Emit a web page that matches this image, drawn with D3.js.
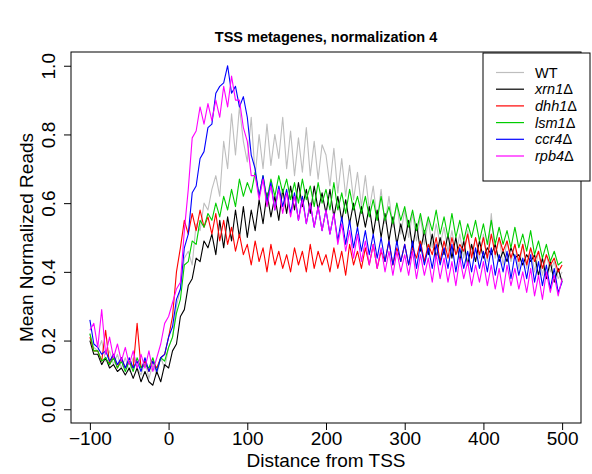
<!DOCTYPE html>
<html>
<head>
<meta charset="utf-8">
<script src="https://cdn.jsdelivr.net/npm/d3@7"></script>
<style>
  html, body { margin: 0; padding: 0; background: #fff; }
  svg { display: block; font-family: "Liberation Sans", Arial, Helvetica, sans-serif; }
</style>
</head>
<body>
<svg id="chart" width="592" height="474"></svg>
<script>
// Distance from TSS (bp), every 5 bp from -100 to 500
const positions = d3.range(-100, 501, 5);

const WT = [
  0.22,0.18,0.17,0.20,0.14,0.17,0.13,0.16,0.12,0.15,
  0.11,0.15,0.12,0.10,0.14,0.09,0.13,0.10,0.15,0.12,
  0.18,0.21,0.30,0.35,0.44,0.46,0.42,0.54,0.52,0.60,
  0.58,0.64,0.68,0.62,0.78,0.70,0.86,0.74,0.88,0.78,
  0.72,0.85,0.68,0.80,0.70,0.83,0.71,0.80,0.73,0.85,
  0.70,0.81,0.68,0.79,0.69,0.82,0.68,0.78,0.67,0.77,
  0.74,0.65,0.76,0.63,0.73,0.62,0.71,0.61,0.69,0.59,
  0.68,0.58,0.65,0.55,0.64,0.54,0.62,0.53,0.60,0.51,
  0.58,0.50,0.57,0.49,0.56,0.48,0.55,0.47,0.54,0.48,
  0.53,0.46,0.52,0.45,0.51,0.44,0.52,0.45,0.50,0.44,
  0.51,0.43,0.57,0.44,0.50,0.42,0.49,0.43,0.48,0.41,
  0.48,0.41,0.47,0.40,0.46,0.39,0.45,0.40,0.43,0.38,
  0.40
];
const xrn1 = [
  0.20,0.16,0.16,0.13,0.15,0.12,0.13,0.11,0.12,0.10,
  0.12,0.09,0.12,0.08,0.11,0.08,0.07,0.11,0.08,0.13,
  0.12,0.17,0.19,0.27,0.29,0.36,0.38,0.44,0.43,0.49,
  0.47,0.51,0.45,0.55,0.47,0.56,0.49,0.58,0.50,0.59,
  0.50,0.58,0.52,0.61,0.54,0.63,0.56,0.62,0.55,0.64,
  0.57,0.65,0.58,0.66,0.59,0.64,0.57,0.65,0.58,0.63,
  0.57,0.64,0.56,0.62,0.55,0.61,0.54,0.60,0.53,0.59,
  0.53,0.59,0.51,0.58,0.50,0.57,0.49,0.56,0.48,0.54,
  0.49,0.55,0.47,0.54,0.46,0.52,0.45,0.51,0.44,0.50,
  0.45,0.51,0.44,0.50,0.43,0.49,0.42,0.48,0.43,0.49,
  0.44,0.47,0.45,0.48,0.43,0.46,0.43,0.47,0.44,0.45,
  0.42,0.45,0.43,0.45,0.39,0.44,0.38,0.43,0.37,0.41,
  0.37
];
const dhh1 = [
  0.21,0.17,0.17,0.14,0.23,0.13,0.16,0.12,0.15,0.12,
  0.14,0.12,0.25,0.12,0.14,0.11,0.14,0.12,0.15,0.16,
  0.21,0.27,0.40,0.47,0.55,0.51,0.57,0.52,0.58,0.53,
  0.56,0.51,0.57,0.49,0.55,0.48,0.53,0.46,0.51,0.45,
  0.48,0.42,0.49,0.43,0.47,0.40,0.48,0.42,0.46,0.41,
  0.45,0.40,0.47,0.42,0.46,0.40,0.48,0.41,0.46,0.42,
  0.45,0.40,0.47,0.41,0.46,0.39,0.48,0.42,0.46,0.41,
  0.47,0.42,0.48,0.41,0.46,0.43,0.49,0.42,0.47,0.43,
  0.48,0.42,0.47,0.44,0.49,0.43,0.48,0.45,0.50,0.43,
  0.49,0.44,0.50,0.45,0.48,0.46,0.51,0.44,0.50,0.45,
  0.50,0.44,0.51,0.45,0.50,0.46,0.49,0.44,0.48,0.43,
  0.48,0.42,0.47,0.43,0.46,0.41,0.45,0.42,0.44,0.40,
  0.42
];
const lsm1 = [
  0.22,0.17,0.17,0.14,0.15,0.13,0.15,0.12,0.14,0.11,
  0.14,0.11,0.15,0.12,0.13,0.12,0.15,0.11,0.15,0.14,
  0.18,0.21,0.28,0.32,0.42,0.43,0.49,0.48,0.55,0.53,
  0.57,0.55,0.60,0.56,0.62,0.58,0.64,0.59,0.67,0.62,
  0.66,0.63,0.69,0.62,0.68,0.61,0.67,0.62,0.68,0.63,
  0.67,0.61,0.66,0.60,0.67,0.61,0.65,0.59,0.66,0.60,
  0.64,0.58,0.66,0.58,0.63,0.57,0.64,0.58,0.62,0.57,
  0.62,0.56,0.61,0.55,0.62,0.55,0.59,0.54,0.60,0.55,
  0.59,0.53,0.58,0.52,0.57,0.51,0.56,0.52,0.58,0.51,
  0.56,0.50,0.57,0.50,0.55,0.49,0.54,0.50,0.55,0.49,
  0.54,0.48,0.55,0.48,0.53,0.48,0.52,0.47,0.53,0.47,
  0.51,0.46,0.52,0.45,0.49,0.44,0.48,0.43,0.46,0.42,
  0.43
];
const ccr4 = [
  0.26,0.19,0.18,0.16,0.17,0.14,0.16,0.13,0.15,0.12,
  0.15,0.12,0.14,0.11,0.15,0.11,0.14,0.11,0.15,0.16,
  0.21,0.24,0.32,0.35,0.47,0.51,0.63,0.65,0.73,0.75,
  0.82,0.83,0.92,0.94,0.95,1.00,0.92,0.94,0.88,0.91,
  0.85,0.74,0.70,0.62,0.68,0.60,0.66,0.58,0.65,0.59,
  0.64,0.57,0.63,0.55,0.62,0.54,0.60,0.53,0.59,0.52,
  0.58,0.51,0.57,0.49,0.56,0.48,0.55,0.47,0.53,0.46,
  0.52,0.45,0.51,0.44,0.50,0.43,0.49,0.42,0.49,0.43,
  0.48,0.42,0.49,0.41,0.48,0.42,0.47,0.41,0.48,0.42,
  0.47,0.41,0.48,0.40,0.47,0.41,0.46,0.40,0.47,0.41,
  0.46,0.40,0.47,0.39,0.45,0.40,0.46,0.38,0.45,0.39,
  0.44,0.38,0.45,0.37,0.43,0.36,0.42,0.35,0.41,0.34,
  0.37
];
const rpb4 = [
  0.23,0.25,0.18,0.29,0.16,0.21,0.15,0.19,0.14,0.18,
  0.13,0.17,0.12,0.16,0.12,0.17,0.11,0.15,0.19,0.25,
  0.27,0.31,0.35,0.37,0.52,0.64,0.79,0.81,0.88,0.83,
  0.89,0.84,0.90,0.85,0.94,0.88,0.97,0.90,0.90,0.82,
  0.78,0.68,0.68,0.61,0.67,0.59,0.65,0.58,0.64,0.57,
  0.63,0.56,0.62,0.55,0.61,0.54,0.60,0.53,0.59,0.52,
  0.58,0.51,0.57,0.48,0.54,0.46,0.52,0.44,0.51,0.43,
  0.49,0.42,0.48,0.41,0.47,0.40,0.46,0.39,0.46,0.40,
  0.45,0.39,0.46,0.38,0.45,0.39,0.44,0.37,0.45,0.38,
  0.44,0.37,0.43,0.36,0.44,0.38,0.43,0.36,0.42,0.37,
  0.43,0.36,0.42,0.35,0.41,0.34,0.42,0.36,0.41,0.35,
  0.40,0.34,0.41,0.33,0.39,0.32,0.40,0.34,0.39,0.33,
  0.38
];

const seriesNames = ["WT", "xrn1", "dhh1", "lsm1", "ccr4", "rpb4"];
const seriesValues = [WT, xrn1, dhh1, lsm1, ccr4, rpb4];
const seriesColors = ["#bebebe", "#000000", "#ff0000", "#00cd00", "#0000ff", "#ff00ff"];
const xTicks = [-100, 0, 100, 200, 300, 400, 500];
const yTicks = [0.0, 0.2, 0.4, 0.6, 0.8, 1.0];

(function () {
  const svg = d3.select("#chart");
  const pLeft = 71, pRight = 581, pTop = 52, pBottom = 423;

  const x = d3.scaleLinear().domain([-124, 524]).range([pLeft, pRight]);
  const y = d3.scaleLinear().domain([-0.04, 1.04]).range([pBottom, pTop]);

  // series lines
  const line = d3.line().x((d, i) => x(positions[i])).y(d => y(d));
  const plot = svg.append("g");
  seriesValues.forEach((vals, k) => {
    plot.append("path")
      .datum(vals)
      .attr("d", line)
      .attr("fill", "none")
      .attr("stroke", seriesColors[k])
      .attr("stroke-width", 1.1)
      .attr("stroke-linejoin", "round");
  });

  // box
  svg.append("rect")
    .attr("x", pLeft).attr("y", pTop)
    .attr("width", pRight - pLeft).attr("height", pBottom - pTop)
    .attr("fill", "none").attr("stroke", "#000").attr("stroke-width", 1);

  // x axis
  const xAxis = d3.axisBottom(x).tickValues(xTicks).tickSize(7).tickPadding(2)
    .tickFormat(d => d < 0 ? "\u2212" + Math.abs(d) : String(d));
  const gx = svg.append("g").attr("transform", `translate(0,${pBottom})`).call(xAxis);
  gx.select(".domain").remove();
  gx.selectAll("text").attr("font-size", 19).attr("fill", "#000")
    .attr("font-family", '"Liberation Sans", Arial, sans-serif');
  gx.selectAll("line").attr("stroke", "#000");

  // y axis
  const yAxis = d3.axisLeft(y).tickValues(yTicks).tickSize(7).tickFormat(d3.format(".1f"));
  const gy = svg.append("g").attr("transform", `translate(${pLeft},0)`).call(yAxis);
  gy.select(".domain").remove();
  gy.selectAll("line").attr("stroke", "#000");
  gy.selectAll("text")
    .attr("font-size", 19).attr("fill", "#000")
    .attr("font-family", '"Liberation Sans", Arial, sans-serif')
    .attr("x", null).attr("dy", null)
    .attr("text-anchor", "middle")
    .attr("transform", "translate(-16,0) rotate(-90)");

  // titles
  svg.append("text")
    .attr("x", (pLeft + pRight) / 2).attr("y", 42)
    .attr("text-anchor", "middle").attr("font-weight", "bold").attr("font-size", 14.5)
    .text("TSS metagenes, normalization 4");

  svg.append("text")
    .attr("x", (pLeft + pRight) / 2).attr("y", 467)
    .attr("text-anchor", "middle").attr("font-size", 19)
    .text("Distance from TSS");

  svg.append("text")
    .attr("transform", `translate(33,${(pTop + pBottom) / 2}) rotate(-90)`)
    .attr("text-anchor", "middle").attr("font-size", 19)
    .text("Mean Normalized Reads");

  // legend
  const lg = svg.append("g");
  lg.append("rect")
    .attr("x", 483).attr("y", 53).attr("width", 107).attr("height", 128)
    .attr("fill", "#fff").attr("stroke", "#000").attr("stroke-width", 1);
  seriesNames.forEach((name, k) => {
    const yy = 72.5 + k * 16.7;
    lg.append("line")
      .attr("x1", 496).attr("x2", 524).attr("y1", yy).attr("y2", yy)
      .attr("stroke", seriesColors[k]).attr("stroke-width", 1.2);
    const t = lg.append("text").attr("x", 535).attr("y", yy + 5).attr("font-size", 14.5);
    if (name === "WT") {
      t.text(name);
    } else {
      t.append("tspan").attr("font-style", "italic").text(name);
      t.append("tspan").text("\u0394");
    }
  });
})();
</script>
</body>
</html>
